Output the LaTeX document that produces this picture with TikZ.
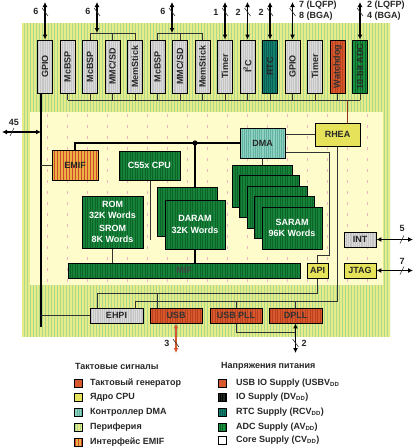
\documentclass[tikz,border=0pt]{standalone}
\usepackage{fontspec}
\setmainfont{Liberation Sans}
\usetikzlibrary{arrows.meta,patterns.meta,backgrounds}
\definecolor{outery}{HTML}{E8EC88}
\definecolor{outerg}{HTML}{A8D98F}
\definecolor{innery}{HTML}{FFFCCB}
\definecolor{innerp}{HTML}{F0B4C4}
\definecolor{gbase}{HTML}{17823A}
\definecolor{gstripe}{HTML}{0C6428}
\definecolor{tealc}{HTML}{13806F}
\definecolor{tealst}{HTML}{0A5F52}
\definecolor{adcg}{HTML}{18923F}
\definecolor{orangec}{HTML}{D6582C}
\definecolor{orangest}{HTML}{B8401C}
\definecolor{yellowc}{HTML}{E6E35A}
\definecolor{dmac}{HTML}{8ED0BF}
\definecolor{dmast}{HTML}{62B3A2}
\definecolor{greyc}{HTML}{C4C4C4}
\definecolor{greyst}{HTML}{DCDCDC}
\definecolor{emifc}{HTML}{EAB341}
\definecolor{emifst}{HTML}{D2452E}
\definecolor{wirec}{HTML}{333333}
\definecolor{iodark}{HTML}{1E2A1E}
\tikzset{
 stripes/.style n args={3}{preaction={fill=#1},preaction={pattern={Lines[angle=90,distance=#3,line width=0.8pt]},pattern color=#2}},
 blk/.style={draw=black,line width=0.9pt,inner sep=0pt,align=center},
 greybox/.style={blk,stripes={greyc}{greyst}{2.2pt},text=black!85},
 greenbox/.style={blk,stripes={gbase}{gstripe}{2.5pt},text=white},
 rtcbox/.style={blk,stripes={tealc}{tealst}{2.2pt},text=black!85},
 adcbox/.style={blk,stripes={adcg}{gstripe}{2.5pt},text=black!85},
 orbox/.style={blk,stripes={orangec}{orangest}{2.5pt},text=black!80},
 yelbox/.style={blk,fill=yellowc,text=black!85},
 dmabox/.style={blk,stripes={dmac}{dmast}{2.2pt},text=black!85},
 emifbox/.style={blk,stripes={emifc}{emifst}{3pt},text=black!85},
 per/.style={rotate=90,minimum width=53pt,minimum height=15pt},
 wire/.style={draw=wirec,line width=0.8pt},
 buswire/.style={draw=black,line width=1.8pt},
 bio/.style={{Latex[length=5pt,width=5pt]}-{Latex[length=5pt,width=5pt]},line width=1.5pt},
 markline/.style={draw=black!80,line width=0.6pt},
 lbl/.style={inner sep=0pt,text=black!85},
 legsq/.style={draw=black,line width=0.8pt,minimum size=8pt,inner sep=0pt},
 legtxt/.style={anchor=west,inner sep=0pt,text=black!85},
 twoline/.style={font=\fontsize{9}{11.5}\selectfont\bfseries},
}
\newcommand\vmark[2]{\draw[markline] ({#1-3},{#2-4}) -- ({#1+3},{#2+4});}
\newcommand\hmark[2]{\draw[markline] ({#1-2},{#2+4}) -- ({#1+2},{#2-4});}
\begin{document}
\begin{tikzpicture}[x=1pt,y=-1pt,font=\fontsize{9}{11}\selectfont\bfseries]
\useasboundingbox (0,0) rectangle (415,447);
\begin{scope}[on background layer]
  \path[stripes={outery}{outerg}{3pt}] (22,23) rectangle (390,337);
  \fill[innery] (30,112) rectangle (383,285);
  \foreach \x in {47,67,...,367}
    {\draw[innerp,line width=0.6pt,dash pattern=on 3pt off 8pt] (\x,114) -- (\x,283);}
\end{scope}

% top peripherals
\foreach \i/\t/\s in {1/GPIO/greybox,2/McBSP/greybox,3/McBSP/greybox,4/{MMC/SD}/greybox,5/MemStick/greybox,6/McBSP/greybox,7/{MMC/SD}/greybox,8/MemStick/greybox,9/Timer/greybox,10/{I\textsuperscript{2}C}/greybox,11/RTC/rtcbox,12/GPIO/greybox,13/Timer/greybox,14/Watchdog/orbox,15/10-bit ADC/adcbox}
  {\node[\s,per] (p\i) at ({45+22.5*(\i-1)},66.5) {\t};}

% core blocks
\node[emifbox,minimum width=46pt,minimum height=30pt] (emif) at (75,165) {EMIF};
\node[greenbox,minimum width=61pt,minimum height=29pt] (cpu) at (149.5,165.5) {C55x CPU};
\node[greenbox,twoline,minimum width=61pt,minimum height=52pt] (rom) at (112.5,222) {ROM\\32K Words\\[1pt]SROM\\8K Words};
\node[greenbox,minimum width=60pt,minimum height=49pt] (daramb) at (187,211.5) {};
\node[greenbox,twoline,minimum width=60pt,minimum height=49pt] (daram) at (195,224.5) {DARAM\\32K Words};
\foreach \k in {0,...,3}
  {\node[greenbox,minimum width=60pt,minimum height=42pt] (s\k) at ({262+7.5*\k},{186+10.5*\k}) {};}
\node[greenbox,twoline,minimum width=60pt,minimum height=42pt] (saram) at (292,228) {SARAM\\96K Words};
\node[dmabox,minimum width=45pt,minimum height=30pt] (dma) at (262.5,143) {DMA};
\node[yelbox,minimum width=45pt,minimum height=23pt] (rhea) at (337.5,134.5) {RHEA};
\node[yelbox,minimum width=21pt,minimum height=15pt] (api) at (317.5,270.5) {API};
\node[greybox,minimum width=32pt,minimum height=15pt] (int) at (360,239.5) {INT};
\node[yelbox,minimum width=32pt,minimum height=15pt] (jtag) at (360,270.5) {JTAG};
\node[greenbox,minimum width=232pt,minimum height=15pt,text=black!75] (mif) at (184,270.5) {MIF};

% bottom blocks
\node[greybox,minimum width=53pt,minimum height=15pt] (ehpi) at (116.5,315.5) {EHPI};
\node[orbox,minimum width=52pt,minimum height=15pt] (usb) at (176,315.5) {USB};
\node[orbox,minimum width=52pt,minimum height=15pt] (usbpll) at (236,315.5) {USB PLL};
\node[orbox,minimum width=53pt,minimum height=15pt] (dpll) at (295.5,315.5) {DPLL};

% coordinates
\coordinate (busy) at (0,100);
\coordinate (g1t) at (97,2);  \coordinate (g1b) at (97,33);
\coordinate (g2t) at (172,2); \coordinate (g2b) at (172,33);
\coordinate (lb) at (41,327);
\coordinate (l45) at (2,132); \coordinate (l45b) at (41,132);
\coordinate (dot) at (195,143);
\coordinate (cpuend) at (150,240);
\coordinate (dapi1) at (329,152); \coordinate (dapi2) at (329,255);
\coordinate (l1) at (97,293); \coordinate (l2) at (135,301);
\coordinate (usbin) at (157,308);
\coordinate (pllj) at (295.5,332);
\coordinate (dpllend) at (295.5,353);
\coordinate (usbend) at (176,353);
\coordinate (intend) at (413,239.5);
\coordinate (jtagend) at (413,270.5);
\coordinate (rheatop) at (347,123);

\begin{scope}[on background layer]
  % peripheral bus
  \foreach \i in {2,...,15} {\draw[wire] (p\i.west) -- (p\i.west |- busy);}
  \draw[wire] (p2.west |- busy) -- (p15.west |- busy);
  \draw[wire,draw=orangest!80!black] (rheatop) -- (rheatop |- busy);
  % top arrows
  \foreach \i in {1,9,10,11,12,15} {
    \coordinate (t\i) at (p\i.east |- g1t);
    \draw[bio] (t\i) -- (p\i.east);
  }
  \draw[bio] (g1t) -- (g1b);
  \draw[bio] (g2t) -- (g2b);
  \draw[wire] (p3.east |- g1b) -- (p5.east |- g1b);
  \draw[wire] (p6.east |- g2b) -- (p8.east |- g2b);
  \foreach \i in {3,4,5,6,7,8} {\draw[wire] (p\i.east) -- (p\i.east |- g1b);}
  % left bus
  \draw[buswire] ([xshift=-4pt]p1.west) -- (lb);
  \draw[bio] (l45) -- (l45b);
  \draw[wire] (emif.west -| lb) -- (emif.west);
  \draw[wire] (ehpi.west -| lb) -- (ehpi.west);
  % core bus
  \draw[buswire] (emif.north) -- (emif.north |- dma.west) -- (dma.west);
  \draw[buswire] (dot) -- (dot |- mif.north);
  \draw[wire] (cpu.south -| cpuend) -- (cpuend);
  \draw[wire] (rom.south) -- (rom.south |- mif.north);
  \draw[wire] (dma.south) -- (dma.south |- s0.north);
  \draw[wire] (rhea.west -| dma.east) -- (rhea.west);
  \draw[wire] (dma.east |- dapi1) -- (dapi1) -- (dapi2) -| (api.north);
  \draw[wire] (rhea.south) -- (rhea.south |- l2);
  \draw[wire] (api.south) -- (api.south |- l1);
  \draw[wire] (l1) -- (api.south |- l1);
  \draw[wire] (l1) -- (l1 |- ehpi.north);
  \draw[wire] (usbin |- l1) -- (usbin);
  \draw[wire] (l2) -- (rhea.south |- l2);
  \draw[wire] (l2) -- (l2 |- ehpi.north);
  \draw[wire] (usbpll.north |- l2) -- (usbpll.north);
  \draw[wire] (dpll.north |- l2) -- (dpll.north);
  \draw[wire] (usbpll.south) |- (pllj);
  % external arrows
  \draw[bio] (dpllend) -- (dpll.south);
  \draw[bio,orangec] (usbend) -- (usb.south);
  \draw[bio] (int.east) -- (intend);
  \draw[bio] (jtag.east) -- (jtagend);
  % bus width marks
  \foreach \x in {45,97,172,225,247.5,270,292.5,360} {\vmark{\x}{12}}
  \hmark{12}{132}
  \hmark{402}{239.5}
  \hmark{402}{270.5}
  \vmark{176}{343}
  \vmark{295.5}{343}
\end{scope}
\fill (dot) circle (2.6pt);

% labels
\node[lbl] (n1) at (36,11) {6};
\node[lbl] (n2) at (88,11) {6};
\node[lbl] (n3) at (163,11) {6};
\node[lbl] (n4) at (216,12) {1};
\node[lbl] (n5) at (238,12) {2};
\node[lbl] (n6) at (261,12) {2};
\node[lbl,anchor=west] (n7) at (299,5) {7 (LQFP)};
\node[lbl,anchor=west] (n8) at (299,16.5) {8 (BGA)};
\node[lbl,anchor=west] (n9) at (367,5) {2 (LQFP)};
\node[lbl,anchor=west] (n10) at (367,16.5) {4 (BGA)};
\node[lbl] (n11) at (14,122) {45};
\node[lbl] (n12) at (402,228) {5};
\node[lbl] (n13) at (402,261) {7};
\node[lbl] (n14) at (167,343) {3};
\node[lbl] (n15) at (304,343) {2};

% legend
\node[legtxt] (lgl) at (75,366) {Тактовые сигналы};
\node[legtxt] (lgr) at (221,366) {Напряжения питания};
\node[legsq,fill=orangec] (q1) at (78,383) {};
\node[legsq,fill=yellowc] (q2) at (78,397.5) {};
\node[legsq,stripes={dmac}{dmast}{2.2pt}] (q3) at (78,412) {};
\node[legsq,stripes={outery}{outerg}{2.5pt}] (q4) at (78,427) {};
\node[legsq,stripes={emifc}{emifst}{3pt}] (q5) at (78,442) {};
\node[legtxt] (t1) at (90,383) {Тактовый генератор};
\node[legtxt] (t2) at (90,397.5) {Ядро CPU};
\node[legtxt] (t3) at (90,412) {Контроллер DMA};
\node[legtxt] (t4) at (90,427) {Периферия};
\node[legtxt] (t5) at (90,442) {Интерфейс EMIF};
\node[legsq,fill=orangec] (r1) at (222,383) {};
\node[legsq,stripes={iodark}{black}{2.5pt}] (r2) at (222,397.5) {};
\node[legsq,stripes={tealc}{tealst}{2.2pt}] (r3) at (222,412) {};
\node[legsq,stripes={adcg}{gstripe}{2.5pt}] (r4) at (222,427) {};
\node[legsq,fill=white] (r5) at (222,440) {};
\node[legtxt] (u1) at (236,383) {USB IO Supply (USBV\textsubscript{DD}};
\node[legtxt] (u2) at (236,397.5) {IO Supply (DV\textsubscript{DD})};
\node[legtxt] (u3) at (236,412) {RTC Supply (RCV\textsubscript{DD})};
\node[legtxt] (u4) at (236,427) {ADC Supply (AV\textsubscript{DD})};
\node[legtxt] (u5) at (236,440) {Core Supply (CV\textsubscript{DD})};
\end{tikzpicture}
\end{document}
